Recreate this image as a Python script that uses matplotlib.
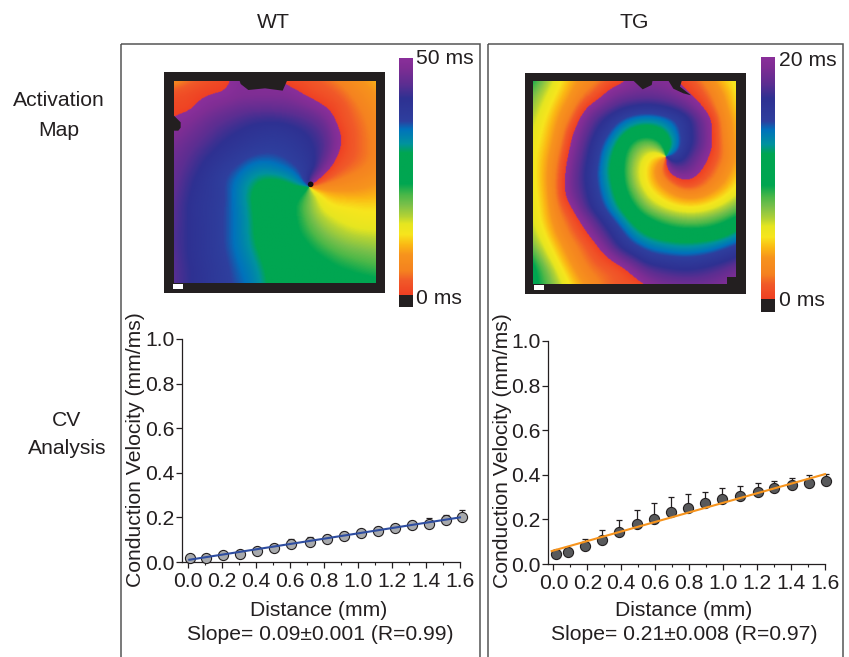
import numpy as np
import matplotlib
matplotlib.use("Agg")
import matplotlib.pyplot as plt
from matplotlib.colors import LinearSegmentedColormap
from matplotlib.patches import Rectangle, Polygon, Circle

plt.rcParams['font.family'] = ['Liberation Sans', 'DejaVu Sans']

W, H = 849, 657
INK = '#231f20'

# ---------- data ----------
wt_x = [0.014, .11, .21, .31, .41, .51, .61, .72, .82, .92, 1.02, 1.12, 1.22, 1.32, 1.42, 1.52, 1.61]
wt_y = [.018, .02, .031, .036, .051, .063, .079, .09, .101, .116, .128, .139, .151, .164, .169, .19, .201]
wt_err = [.005, .006, .008, .01, .01, .012, .022, .022, .022, .018, .015, .017, .012, .018, .03, .02, .03]
wt_fit_x = [0.01, 1.6]
wt_fit_y = [0.01, 0.2]

tg_x = [.018, .086, .187, .287, .389, .491, .593, .693, .795, .895, .995, 1.099, 1.203, 1.301, 1.403, 1.503, 1.604]
tg_y = [.043, .055, .081, .109, .143, .179, .203, .233, .249, .272, .293, .306, .324, .339, .355, .364, .37]
tg_err = [0, 0, .029, .042, .053, .063, .072, .068, .064, .053, .047, .042, .037, .034, .032, .035, .033]
tg_fit_x = [-0.01, 1.6]
tg_fit_y = [0.058, 0.403]

x_ticks = [0.0, 0.2, 0.4, 0.6, 0.8, 1.0, 1.2, 1.4, 1.6]
y_ticks = [0.0, 0.2, 0.4, 0.6, 0.8, 1.0]

# activation maps, fraction of the colour scale read on a 17 x 17 grid
wt_map = [
 [.12,.08,.05,.03,.02,.97,.97,.97,.97,.02,.03,.05,.07,.10,.14,.17,.20],
 [.03,.02,.01,.00,.00,.97,.97,.97,.97,.96,.00,.03,.04,.06,.10,.14,.17],
 [.02,.03,.99,.96,.94,.92,.91,.91,.91,.92,.93,.96,.01,.03,.07,.11,.15],
 [.995,.97,.94,.91,.89,.87,.85,.84,.84,.85,.87,.89,.93,.03,.06,.09,.13],
 [.97,.94,.91,.88,.85,.83,.81,.80,.79,.80,.82,.85,.89,.99,.05,.08,.12],
 [.94,.91,.88,.85,.82,.80,.78,.76,.76,.77,.79,.83,.87,.98,.05,.08,.11],
 [.92,.89,.85,.82,.79,.76,.73,.72,.72,.74,.77,.81,.89,.02,.05,.08,.11],
 [.91,.87,.83,.79,.75,.72,.68,.66,.68,.70,.74,.79,.98,.05,.08,.10,.13],
 [.90,.85,.81,.77,.73,.69,.63,.58,.57,.60,.68,.98,.08,.11,.13,.15,.17],
 [.89,.84,.80,.78,.74,.68,.61,.53,.52,.51,.49,.35,.22,.20,.19,.19,.20],
 [.88,.83,.79,.77,.73,.69,.62,.53,.52,.51,.44,.35,.28,.26,.26,.25,.25],
 [.88,.83,.80,.77,.73,.69,.63,.54,.52,.51,.46,.38,.33,.30,.28,.27,.27],
 [.87,.83,.80,.77,.73,.69,.63,.54,.52,.50,.47,.42,.37,.34,.32,.31,.31],
 [.87,.83,.80,.77,.73,.69,.64,.56,.52,.52,.50,.46,.42,.39,.37,.36,.35],
 [.88,.83,.80,.77,.74,.70,.66,.59,.52,.52,.51,.49,.47,.44,.42,.41,.40],
 [.88,.84,.81,.78,.75,.71,.68,.62,.54,.52,.52,.51,.50,.48,.47,.45,.44],
 [.88,.84,.81,.78,.75,.72,.69,.63,.55,.52,.52,.52,.52,.51,.50,.50,.49],
]
tg_map = [
 [.45,.35,.27,.20,.14,.10,.04,.01,.96,.96,.96,.98,.02,.07,.14,.22,.27],
 [.38,.31,.24,.17,.10,.05,.97,.94,.93,.92,.93,.95,.98,.03,.09,.17,.25],
 [.35,.28,.20,.13,.02,.95,.90,.85,.82,.81,.82,.85,.90,.97,.06,.15,.23],
 [.32,.25,.17,.08,.95,.87,.80,.73,.68,.66,.68,.72,.78,.88,.98,.12,.20],
 [.30,.23,.15,.01,.92,.82,.74,.63,.54,.52,.55,.66,.78,.87,.98,.11,.19],
 [.28,.22,.12,.99,.88,.78,.67,.53,.42,.36,.43,.60,.78,.86,.98,.10,.18],
 [.27,.20,.09,.96,.86,.76,.62,.50,.36,.27,.20,.72,.82,.93,.01,.09,.17],
 [.27,.19,.07,.94,.84,.74,.60,.49,.33,.25,.10,.92,.90,.97,.05,.13,.20],
 [.27,.19,.06,.93,.84,.74,.62,.50,.35,.25,.16,.08,.00,.04,.10,.16,.24],
 [.28,.20,.06,.94,.86,.76,.65,.53,.41,.30,.24,.18,.14,.14,.18,.24,.30],
 [.29,.21,.09,.01,.88,.79,.69,.58,.48,.38,.32,.28,.26,.26,.29,.33,.39],
 [.30,.22,.12,.06,.97,.87,.77,.67,.56,.50,.45,.41,.39,.39,.41,.45,.50],
 [.33,.25,.15,.08,.03,.93,.84,.75,.65,.58,.54,.52,.51,.51,.52,.55,.62],
 [.37,.29,.20,.12,.07,.02,.90,.80,.74,.69,.66,.64,.63,.64,.66,.70,.74],
 [.45,.33,.24,.15,.09,.05,.01,.92,.86,.78,.76,.75,.74,.75,.77,.80,.84],
 [.50,.40,.29,.20,.12,.08,.07,.05,.97,.90,.87,.85,.84,.85,.87,.90,.94],
 [.50,.42,.33,.24,.17,.11,.07,.05,.04,.98,.94,.93,.92,.92,.93,.95,.97],
]

scale_stops = [
 (0.00, '#ef4023'), (0.06, '#f15a29'), (0.10, '#f58220'), (0.17, '#f7941d'),
 (0.21, '#fbb814'), (0.255, '#f7e51d'), (0.30, '#e6e620'), (0.33, '#b5d334'),
 (0.38, '#7ac04a'), (0.42, '#4db848'), (0.47, '#00a651'), (0.60, '#00a651'),
 (0.64, '#00929f'), (0.70, '#0072bc'), (0.735, '#2e3f9e'), (0.83, '#2e3192'),
 (0.89, '#5c2e91'), (0.96, '#7f2d94'), (1.00, '#8a2f9a'),
]
cmap = LinearSegmentedColormap.from_list('act', scale_stops, N=256)


def upsample(grid, n=260, k=7, passes=3):
    """Bilinear resampling plus smoothing on the circle, so red/purple stays a sharp edge."""
    z = np.exp(2j * np.pi * np.asarray(grid, float))
    m = z.shape[0]
    p = np.linspace(0, m - 1, n)
    i = np.clip(p.astype(int), 0, m - 2)
    t = p - i
    z = z[i, :] * (1 - t)[:, None] + z[i + 1, :] * t[:, None]
    z = z[:, i] * (1 - t)[None, :] + z[:, i + 1] * t[None, :]
    q = k * passes
    pad = np.pad(z, q, mode='reflect', reflect_type='odd')
    c = np.ones(2 * k + 1) / (2 * k + 1)
    for _ in range(passes):
        pad = np.apply_along_axis(lambda r: np.convolve(r, c, mode='same'), 0, pad)
        pad = np.apply_along_axis(lambda r: np.convolve(r, c, mode='same'), 1, pad)
    z = pad[q:-q, q:-q]
    return (np.angle(z) / (2 * np.pi)) % 1.0


def ax_px(x0, y0, x1, y1, **kw):
    return fig.add_axes([x0 / W, 1 - y1 / H, (x1 - x0) / W, (y1 - y0) / H], **kw)


fig = plt.figure(figsize=(W / 100, H / 100), dpi=100, facecolor='white')

# overlay in pixel coordinates
bg = fig.add_axes([0, 0, 1, 1])
bg.axis('off')

for x0, x1 in [(121, 480), (488, 843)]:
    bg.add_patch(Rectangle((x0, 43.5), x1 - x0, 640, fc='none', ec='#555555', lw=1.1))


def draw_map(grid, frame, img, scale, bar, notches, dot=None):
    bg.add_patch(Rectangle((frame[0], frame[1]), frame[2] - frame[0], frame[3] - frame[1],
                           fc=INK, ec='none', zorder=1))
    bg.imshow(upsample(grid), cmap=cmap, vmin=0, vmax=1, aspect='auto',
              extent=(img[0], img[2], img[3], img[1]), zorder=2, interpolation='bilinear')
    for n in notches:
        bg.add_patch(Polygon(n, closed=True, fc=INK, ec='none', zorder=3))
    if dot is not None:
        bg.add_patch(Circle(dot, 2.8, fc='#111111', ec='none', zorder=3))
    bg.add_patch(Rectangle((scale[0], scale[1]), scale[2] - scale[0], scale[3] - scale[1],
                           fc='white', ec='none', zorder=3))
    # colour bar
    grad = np.linspace(1, 0, 256)[:, None]
    bg.imshow(grad, cmap=cmap, vmin=0, vmax=1, aspect='auto',
              extent=(bar[0], bar[1], bar[3], bar[2]), zorder=2)
    bg.add_patch(Rectangle((bar[0], bar[3]), bar[1] - bar[0], bar[4] - bar[3],
                           fc=INK, ec='none', zorder=3))


def c1(pts):
    return [(150 + x / 3, 60 + y / 3) for x, y in pts]


def c2(pts):
    return [(510 + x / 3, 60 + y / 3) for x, y in pts]


draw_map(wt_map, (164, 72, 385, 293), (174, 81, 376, 283), (173, 284, 183, 289),
         (399, 412.7, 58, 295, 307),
         [c1([(268, 60), (412, 60), (398, 92), (345, 85), (295, 90), (272, 72)]),
          c1([(70, 165), (92, 187), (92, 203), (85, 212), (70, 212)])],
         dot=(150 + 482 / 3, 60 + 373 / 3))
draw_map(tg_map, (525, 73, 746, 294), (533, 81, 736, 284), (534, 285, 544.3, 290),
         (761, 775, 57, 299, 312),
         [c2([(368, 60), (428, 60), (425, 75), (398, 88)]),
          c2([(474, 60), (516, 60), (510, 80), (543, 106), (520, 100), (490, 86)]),
          c2([(650, 652), (680, 652), (680, 674), (650, 674)])])

bg.set_xlim(0, W)
bg.set_ylim(H, 0)

FS = 15.2
for x, y, s, ha in [(273, 23, 'WT', 'center'), (634, 23, 'TG', 'center'),
                    (59, 101, 'Activation', 'center'), (59, 130, 'Map', 'center'),
                    (67, 421, 'CV', 'center'), (67, 449, 'Analysis', 'center'),
                    (416, 59, '50 ms', 'left'), (416, 299, '0 ms', 'left'),
                    (779, 61, '20 ms', 'left'), (779, 301, '0 ms', 'left'),
                    (320, 635, 'Slope= 0.09\u00b10.001 (R=0.99)', 'center'),
                    (684, 635, 'Slope= 0.21\u00b10.008 (R=0.97)', 'center'),
                    (136, 450, 'Conduction Velocity (mm/ms)', 'center'),
                    (503, 451, 'Conduction Velocity (mm/ms)', 'center')]:
    rot = 90 if s.startswith('Conduction') else 0
    bg.text(x, y, s, ha=ha, va='center', fontsize=FS, color=INK, rotation=rot, zorder=5)


def draw_chart(box, xr, px, py, err, fx, fy, line, fill, xlabel_x):
    ax = ax_px(*box)
    ax.patch.set_alpha(0)
    ax.set_xlim(xr, 1.6)
    ax.set_ylim(0, 1.0)
    for s in ['top', 'right']:
        ax.spines[s].set_visible(False)
    for s in ['left', 'bottom']:
        ax.spines[s].set_color(INK)
        ax.spines[s].set_linewidth(0.9)
    ax.set_xticks(x_ticks)
    ax.set_xticklabels([f'{v:.1f}' for v in x_ticks])
    ax.set_xticks(np.arange(1, 16, 2) / 10, minor=True)
    ax.set_yticks(y_ticks)
    ax.set_yticklabels([f'{v:.1f}' for v in y_ticks])
    ax.tick_params(axis='both', which='major', labelsize=FS, length=4, width=0.9,
                   color=INK, labelcolor=INK, pad=1.5)
    ax.tick_params(axis='x', which='major', pad=3)
    ax.tick_params(axis='x', which='minor', length=2.5, width=0.8, color=INK)
    ax.errorbar(px, py, yerr=[np.zeros(len(err)), err], fmt='none', ecolor=INK,
                elinewidth=0.9, capsize=2.2, capthick=0.9, zorder=2, clip_on=False)
    ax.plot(px, py, 'o', ms=7.3, mfc=fill, mec=INK, mew=0.8, zorder=3, clip_on=False)
    ax.plot(fx, fy, '-', color=line, lw=1.5, zorder=4, clip_on=False)
    bg.text(xlabel_x, 610, 'Distance (mm)', ha='center', va='center', fontsize=FS, color=INK)
    return ax


draw_chart((182, 339, 460, 562), -0.033, wt_x, wt_y, wt_err, wt_fit_x, wt_fit_y,
           '#2e4da0', '#a7a9ac', 319)
draw_chart((548.3, 341, 825, 564), -0.03, tg_x, tg_y, tg_err, tg_fit_x, tg_fit_y,
           '#f7941d', '#58595b', 684)

fig.savefig('out.png', dpi=100)
